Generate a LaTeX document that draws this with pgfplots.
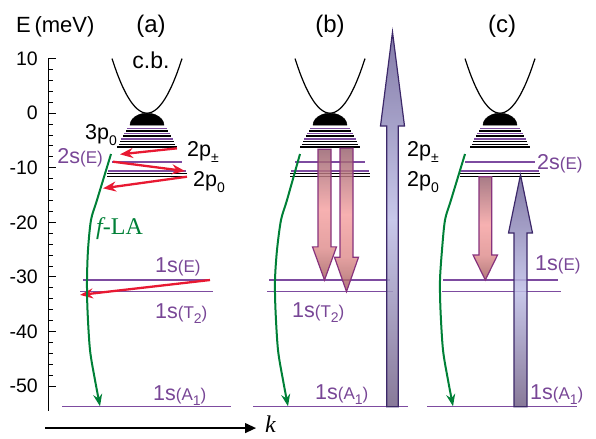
\documentclass[border=0pt]{standalone}
\usepackage{pgfplots}
\pgfplotsset{compat=1.18}
\usepackage{pgfplotstable}
\usepackage{fontspec}
\setmainfont{Liberation Sans}
\newfontfamily\serif{Liberation Serif}
\usetikzlibrary{arrows.meta}

\definecolor{lvpurple}{RGB}{125,75,160}
\definecolor{txtpurple}{RGB}{120,70,150}
\definecolor{arrred}{RGB}{232,25,50}
\definecolor{fgreen}{RGB}{0,128,55}
\definecolor{redtop}{RGB}{150,95,108}
\definecolor{redpink}{RGB}{245,160,160}
\definecolor{redmid}{RGB}{222,140,140}
\definecolor{redtip}{RGB}{160,92,92}
\definecolor{redline}{RGB}{135,50,125}
\definecolor{bluetop}{RGB}{110,100,152}
\definecolor{bluemid}{RGB}{190,190,230}
\definecolor{bluebot}{RGB}{115,98,135}
\definecolor{blueline}{RGB}{60,40,105}

\pgfdeclareverticalshading{redgrad}{100bp}{color(0bp)=(redtip); color(25bp)=(redtip); color(37bp)=(redmid); color(52bp)=(redpink); color(75bp)=(redtop); color(100bp)=(redtop)}
\pgfdeclareverticalshading{bluegrad}{100bp}{color(0bp)=(bluebot); color(25bp)=(bluebot); color(50bp)=(bluemid); color(75bp)=(bluetop); color(100bp)=(bluetop)}

\newcommand\lab{\fontsize{21.5}{21.5}\selectfont}
\newcommand\sm[1]{{\fontsize{17}{17}\selectfont #1}}
\newcommand\sub[1]{\raisebox{-0.28em}{\fontsize{14}{14}\selectfont #1}}

\pgfplotstableread{
dx E
-21 -3.23
21 -3.23
0 nan
-24 -4.18
24 -4.18
0 nan
-27 -5.21
27 -5.21
0 nan
-28 -5.72
28 -5.72
0 nan
-30 -6.25
30 -6.25
0 nan
-40 -11.06
40 -11.06
0 nan
-40 -11.61
40 -11.61
}\blackstack

\pgfplotstableread{
dx E
-20 -2.77
20 -2.77
0 nan
-23 -3.71
23 -3.71
0 nan
-26 -4.68
26 -4.68
0 nan
-35 -8.95
35 -8.95
0 nan
-39 -10.60
39 -10.60
}\purplestack

\pgfplotstableread{
dx E
-35 10
-30 7.347
-25 5.102
-20 3.265
-15 1.837
-10 0.816
-5 0.204
0 0
5 0.204
10 0.816
15 1.837
20 3.265
25 5.102
30 7.347
35 10
}\parab

\pgfplotstableread{
dx E
-17 -2.2
-16.42 -1.63
-14.72 -1.1
-12.02 -0.644
-8.5 -0.295
-4.4 -0.075
0 0
4.4 -0.075
8.5 -0.295
12.02 -0.644
14.72 -1.1
16.42 -1.63
17 -2.2
}\dome

\tikzset{lbl/.style={inner sep=0pt, font=\lab}}

\begin{document}
\begin{tikzpicture}
\begin{axis}[
  scale only axis, width=542pt, height=352pt,
  xmin=48, xmax=590, ymin=-54.5, ymax=10,
  axis y line*=left, axis x line=none,
  clip=false,
  ytick={-50,-40,...,10}, minor y tick num=4,
  tick align=inside,
  major tick length=8pt, minor tick length=5pt,
  every tick/.style={black, line width=0.9pt},
  y axis line style={line width=0.9pt},
  yticklabel style={font=\fontsize{19.5}{19.5}\selectfont, inner sep=0pt, xshift=-10pt},
  /pgf/number format/assume math mode=true,
]
\path (axis cs:0,20.74) rectangle (axis cs:596,-59.7);

% ---- level stacks ----
\addplot[black, line width=1.6pt, unbounded coords=jump] table[x expr=\thisrow{dx}+147, y=E] {\blackstack};
\addplot[lvpurple, line width=1.6pt, unbounded coords=jump] table[x expr=\thisrow{dx}+147, y=E] {\purplestack};
\addplot[black, line width=1.6pt, unbounded coords=jump] table[x expr=\thisrow{dx}+330, y=E] {\blackstack};
\addplot[lvpurple, line width=1.6pt, unbounded coords=jump] table[x expr=\thisrow{dx}+330, y=E] {\purplestack};
\addplot[black, line width=1.6pt, unbounded coords=jump] table[x expr=\thisrow{dx}+500, y=E] {\blackstack};
\addplot[lvpurple, line width=1.6pt, unbounded coords=jump] table[x expr=\thisrow{dx}+500, y=E] {\purplestack};

% ---- conduction band and dome ----
\addplot[black, line width=1.2pt, smooth] table[x expr=\thisrow{dx}+147, y=E] {\parab};
\addplot[black, line width=1.2pt, smooth] table[x expr=\thisrow{dx}+330, y=E] {\parab};
\addplot[black, line width=1.2pt, smooth] table[x expr=\thisrow{dx}+500, y=E] {\parab};
\addplot[black, fill=black, smooth] table[x expr=\thisrow{dx}+147, y=E] {\dome} --cycle;
\addplot[black, fill=black, smooth] table[x expr=\thisrow{dx}+330, y=E] {\dome} --cycle;
\addplot[black, fill=black, smooth] table[x expr=\thisrow{dx}+500, y=E] {\dome} --cycle;

% ---- 1s levels ----
\addplot[lvpurple, line width=1.3pt] coordinates {(62,-53.8) (231,-53.8)};
\addplot[lvpurple, line width=1.3pt] coordinates {(83,-30.57) (210,-30.57)};
\addplot[lvpurple, line width=1.3pt] coordinates {(80,-32.7) (213,-32.7)};
\addplot[lvpurple, line width=1.3pt] coordinates {(253,-53.8) (408,-53.8)};
\addplot[lvpurple, line width=1.3pt] coordinates {(269,-30.57) (390,-30.57)};
\addplot[lvpurple, line width=1.3pt] coordinates {(267,-32.7) (393,-32.7)};
\addplot[lvpurple, line width=1.3pt] coordinates {(427,-53.8) (577,-53.8)};
\addplot[lvpurple, line width=1.3pt] coordinates {(443,-30.57) (558,-30.57)};
\addplot[lvpurple, line width=1.3pt] coordinates {(442,-32.7) (561,-32.7)};

% ---- block arrows (b) ----
\addplot[draw=redline, line width=1.2pt, shade, shading=redgrad, fill opacity=0.82] coordinates {(318,-6.6) (331,-6.6) (331,-24.5) (336.5,-24.5) (324.5,-30.57) (312.5,-24.5) (318,-24.5)} --cycle;
\addplot[draw=redline, line width=1.2pt, shade, shading=redgrad, fill opacity=0.82] coordinates {(340,-6.4) (353,-6.4) (353,-26.4) (358.5,-26.4) (346.5,-32.7) (334.5,-26.4) (340,-26.4)} --cycle;
\addplot[draw=blueline, line width=1.2pt, shade, shading=bluegrad, fill opacity=0.85] coordinates {(386.7,-53.8) (398.3,-53.8) (398.3,-2.35) (404.5,-2.35) (392.5,14.87) (380.5,-2.35) (386.7,-2.35)} --cycle;
% ---- block arrows (c) ----
\addplot[draw=redline, line width=1.2pt, shade, shading=redgrad, fill opacity=0.82] coordinates {(479,-11.65) (491.7,-11.65) (491.7,-26.0) (497.5,-26.0) (485.3,-30.57) (473.1,-26.0) (479,-26.0)} --cycle;
\addplot[draw=blueline, line width=1.2pt, shade, shading=bluegrad, fill opacity=0.85] coordinates {(514,-53.8) (527,-53.8) (527,-21.96) (532.5,-21.96) (520.5,-11.3) (508.5,-21.96) (514,-21.96)} --cycle;

% ---- red arrows (a) ----
\addplot[arrred, line width=2.3pt, -{Stealth[length=13pt,width=10pt]}] coordinates {(177,-6.44) (120,-7.54)};
\addplot[arrred, line width=2.3pt, -{Stealth[length=13pt,width=10pt]}] coordinates {(113,-8.89) (185,-10.6)};
\addplot[arrred, line width=2.3pt, -{Stealth[length=13pt,width=10pt]}] coordinates {(187,-11.64) (103,-13.77)};
\addplot[arrred, line width=2.3pt, -{Stealth[length=13pt,width=10pt]}] coordinates {(210,-30.57) (80,-33.3)};

% ---- green f-LA arrows ----
\addplot[fgreen, line width=2pt, smooth, -{Stealth[length=12pt,width=9pt]}] coordinates {(111,-7.48) (97,-15.91) (91,-19.58) (88,-25.07) (87,-30.57) (87.5,-36.07) (90,-43.40) (95,-48.90) (100,-53.7)};
\addplot[fgreen, line width=2pt, smooth, -{Stealth[length=12pt,width=9pt]}] coordinates {(300,-7.48) (287,-15.91) (281,-19.58) (277,-25.07) (275,-30.57) (275.5,-36.07) (278,-43.40) (283,-48.90) (288,-53.7)};
\addplot[fgreen, line width=2pt, smooth, -{Stealth[length=12pt,width=9pt]}] coordinates {(465,-7.48) (451,-15.91) (445,-19.58) (442,-25.07) (440,-30.57) (440.5,-36.07) (443,-43.40) (448,-48.90) (453,-53.7)};

% ---- k axis ----
\addplot[black, line width=1.2pt, -{Triangle[length=11pt,width=10pt]}] coordinates {(45,-57.7) (256,-57.7)};

% ---- labels ----
\node[lbl, anchor=base west, font=\fontsize{22}{22}\selectfont] at (axis cs:16,14.8) {E\,(meV)};
\node[lbl, anchor=base, font=\fontsize{24}{24}\selectfont] at (axis cs:151,14.8) {(a)};
\node[lbl, anchor=base, font=\fontsize{24}{24}\selectfont] at (axis cs:330,14.8) {(b)};
\node[lbl, anchor=base, font=\fontsize{24}{24}\selectfont] at (axis cs:502,14.8) {(c)};
\node[lbl, anchor=base, font=\fontsize{23}{23}\selectfont] at (axis cs:151,8.22) {c.b.};
\node[lbl, anchor=base east] at (axis cs:117,-4.79) {3p\sub{0}};
\node[lbl, anchor=base east, text=txtpurple] at (axis cs:103,-9.19) {2s\sm{(E)}};
\node[lbl, anchor=base west] at (axis cs:187,-7.97) {2p\sub{±}};
\node[lbl, anchor=base west] at (axis cs:193,-13.47) {2p\sub{0}};
\node[lbl, anchor=base west, text=fgreen, font=\fontsize{24}{24}\selectfont] at (axis cs:96,-22.3) {{\serif\itshape f}{\serif -LA}};
\node[lbl, anchor=base west, text=txtpurple] at (axis cs:155,-29.2) {1s\sm{(E)}};
\node[lbl, anchor=base west, text=txtpurple] at (axis cs:155,-37.6) {1s\sm{(T\sub{2})}};
\node[lbl, anchor=base west, text=txtpurple] at (axis cs:153,-52.6) {1s\sm{(A\sub{1})}};
\node[lbl, anchor=base west] at (axis cs:407,-7.97) {2p\sub{±}};
\node[lbl, anchor=base west] at (axis cs:407,-13.47) {2p\sub{0}};
\node[lbl, anchor=base west, text=txtpurple] at (axis cs:292,-37.5) {1s\sm{(T\sub{2})}};
\node[lbl, anchor=base west, text=txtpurple] at (axis cs:315,-52.5) {1s\sm{(A\sub{1})}};
\node[lbl, anchor=base west, text=txtpurple] at (axis cs:537,-10.41) {2s\sm{(E)}};
\node[lbl, anchor=base west, text=txtpurple] at (axis cs:535,-28.9) {1s\sm{(E)}};
\node[lbl, anchor=base west, text=txtpurple] at (axis cs:530,-52.5) {1s\sm{(A\sub{1})}};
\node[lbl, anchor=base west, font=\fontsize{24}{24}\selectfont] at (axis cs:265,-58.6) {\serif\itshape k};
\end{axis}
\end{tikzpicture}
\end{document}
